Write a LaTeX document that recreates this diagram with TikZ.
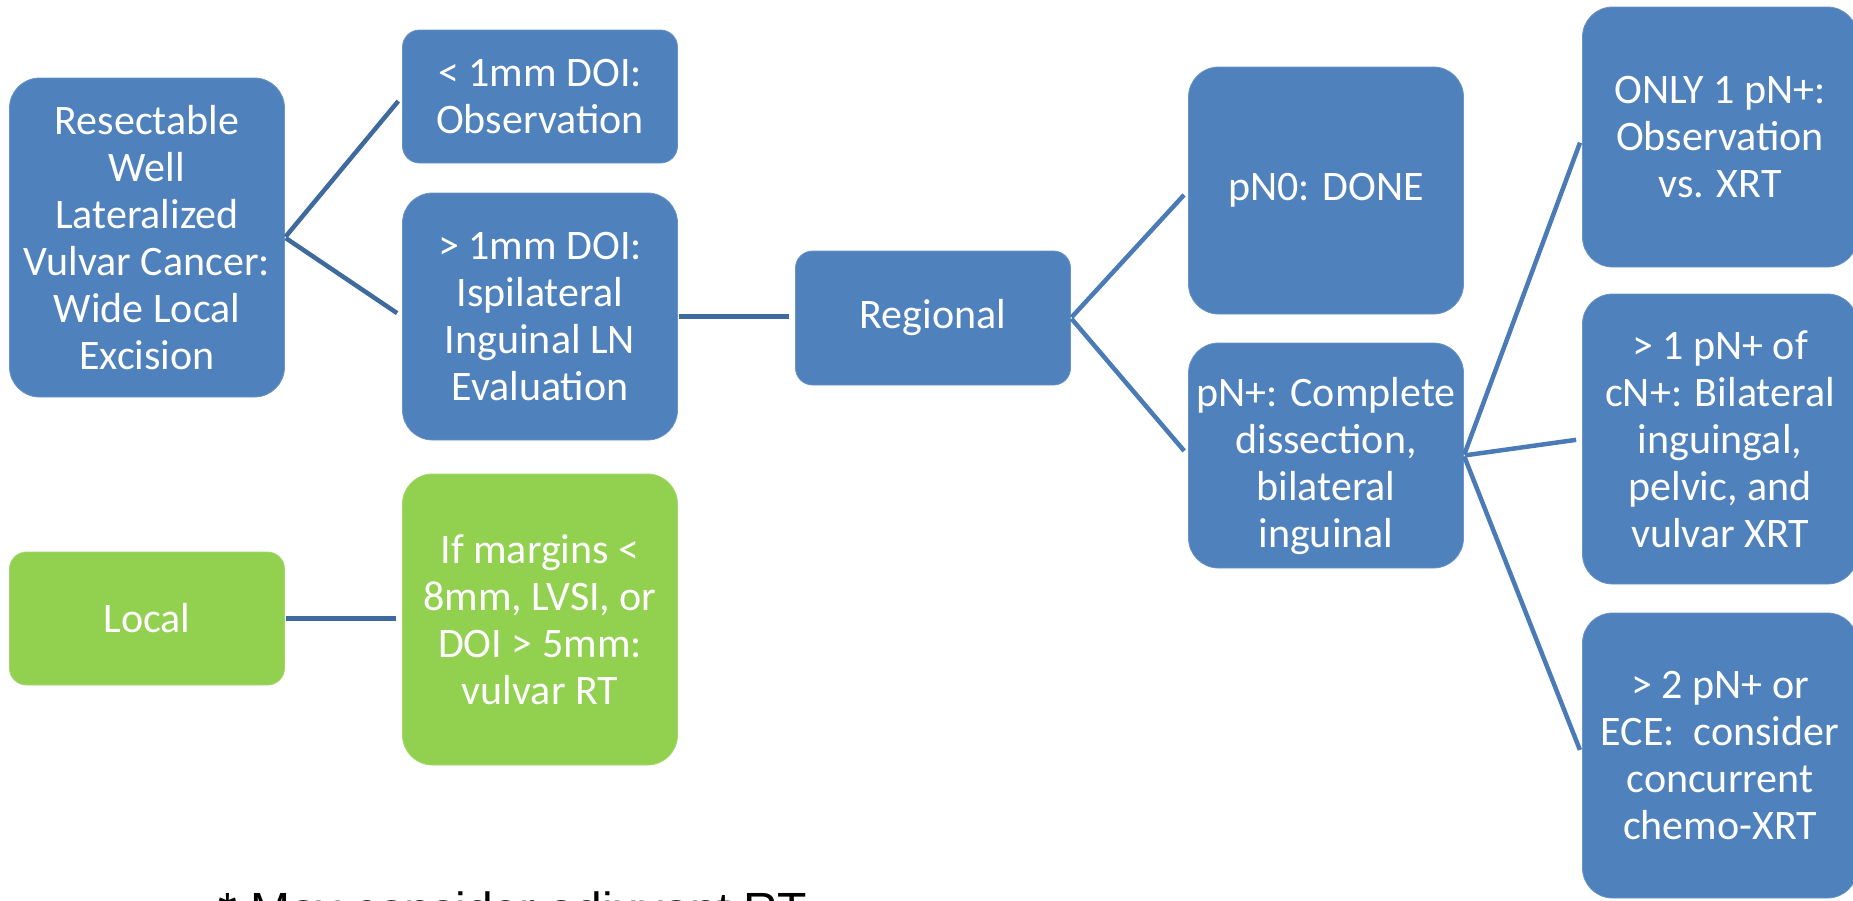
\documentclass[tikz,border=0pt]{standalone}
\usepackage{fontspec}
\setmainfont{Carlito}
\newfontfamily\arialfont{Liberation Sans}
\definecolor{boxblue}{HTML}{4F81BD}
\definecolor{boxgreen}{HTML}{92D050}
\definecolor{lineA}{HTML}{3F6A9E}
\definecolor{lineB}{HTML}{4A7BB7}
\begin{document}
\begin{tikzpicture}[x=1pt,y=-1pt,
  cell/.style={line width=0.8pt, text=white, align=center, inner sep=0pt,
    font=\fontsize{42}{47}\selectfont, minimum width=275pt},
  bluecell/.style={cell, fill=boxblue, draw=boxblue!85!white},
  greencell/.style={cell, fill=boxgreen, draw=boxgreen!85!white},
  rs/.style={rounded corners=17pt},
  rl/.style={rounded corners=30pt},
  connA/.style={draw=lineA, line width=4.5pt, shorten >=6pt, shorten <=1pt},
  connB/.style={draw=lineB, line width=4.5pt, shorten >=6pt, shorten <=1pt}]
\useasboundingbox (0,0) rectangle (1853,900);

% column 1
\node[bluecell, rl, minimum height=319pt] (A) at (147,237.5)
  {Resectable\\Well\\Lateralized\\Vulvar Cancer:\\Wide Local\\Excision};
\node[greencell, rs, minimum height=133pt] (J) at (147,618.5) {Local};

% column 2
\node[bluecell, rs, minimum height=133pt] (B) at (540,96.5)
  {< 1mm DOI:\\Observation};
\node[bluecell, rl, minimum height=247pt] (C) at (540,316.5)
  {> 1mm DOI:\\Ispilateral\\Inguinal LN\\Evaluation};
\node[greencell, rl, minimum height=291pt] (K) at (540,619.5)
  {If margins <\\8mm, LVSI, or\\DOI > 5mm:\\vulvar RT};

% column 3
\node[bluecell, rs, minimum height=134pt] (D) at (933,318) {Regional};

% column 4
\node[bluecell, rl, minimum height=247pt] (E) at (1326,190.5) {pN0: DONE};
\node[bluecell, rl, minimum height=225pt] (F) at (1326,455.5)
  {\raisebox{-12pt}[\height][\depth]{\begin{tabular}{@{}c@{}}pN+: Complete\\dissection,\\bilateral\\inguinal\end{tabular}}};

% column 5
\node[bluecell, rl, minimum height=260pt] (G) at (1720,137)
  {ONLY 1 pN+:\\Observation\\vs. XRT};
\node[bluecell, rl, minimum height=290pt] (H) at (1720,439)
  {> 1 pN+ of\\cN+: Bilateral\\inguingal,\\pelvic, and\\vulvar XRT};
\node[bluecell, rl, minimum height=285pt] (I) at (1720,755.5)
  {> 2 pN+ or\\ECE:\ \ consider\\concurrent\\chemo-XRT};

% connectors
\draw[connA] (A.east) -- (B.west);
\draw[connA] (A.east) -- (C.west);
\draw[connA] (C.east) -- (D.west |- C.east);
\draw[connA] (J.east) -- (K.west |- J.east);
\draw[connB] (D.east) -- (E.west);
\draw[connB] (D.east) -- (F.west);
\draw[connB] (F.east) -- (G.west);
\draw[connB] (F.east) -- (H.west);
\draw[connB] (F.east) -- (I.west);

% footnote (cut by the page edge)
\node[anchor=base west, inner sep=0pt, font=\arialfont\fontsize{48}{56}\selectfont, text=black]
  (note) at (218,926) {* May consider adjuvant RT};
\end{tikzpicture}
\end{document}
